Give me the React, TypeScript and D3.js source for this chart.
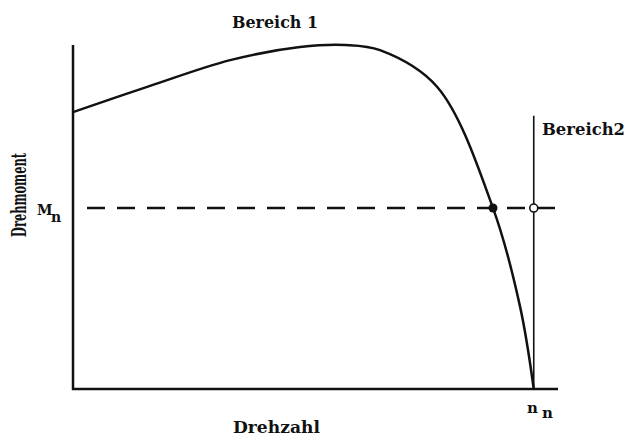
import * as d3 from 'd3';

// Drehzahl (% of axis) / Drehmoment (% of axis)
const speed = [0, 15.9, 32.4, 46.8, 56.1, 63.3, 75.1, 86.6, 92.2, 95];
const torque = [80.5, 88.1, 95.6, 99.4, 100, 98.5, 87.8, 52.6, 23.8, 0];

const nominalTorque = 52.6; // M_n
const nominalSpeed = 95; // n_n
const intersectSpeed = 86.6; // curve meets M_n
const region2Top = 79.4; // top of the Bereich2 line

const W = 630;
const H = 436;
const margin = { top: 45, right: 72, bottom: 47, left: 73 };

const FONT = '"DejaVu Serif", serif';

export default function App() {
  const x = d3.scaleLinear().domain([0, 100]).range([margin.left, W - margin.right]);
  const y = d3.scaleLinear().domain([0, 100]).range([H - margin.bottom, margin.top]);

  const pts = speed.map((s, i) => [s, torque[i]] as [number, number]);
  const line = d3
    .line<[number, number]>()
    .x((d) => x(d[0]))
    .y((d) => y(d[1]))
    .curve(d3.curveCatmullRom.alpha(0.5));

  const yMn = y(nominalTorque);

  return (
    <svg
      width={W}
      height={H}
      style={{ position: 'absolute', left: 0, top: 0, background: '#fff' }}
    >
      {/* Achsen */}
      <line x1={x(0)} x2={x(0)} y1={y(100)} y2={y(0) + 1} stroke="#111" strokeWidth={2.5} />
      <line x1={x(0) - 1} x2={x(100)} y1={y(0)} y2={y(0)} stroke="#111" strokeWidth={2.5} />

      {/* M_n Linie */}
      <line
        x1={x(0) + 14}
        x2={x(100)}
        y1={yMn}
        y2={yMn}
        stroke="#111"
        strokeWidth={2.5}
        strokeDasharray="18 12"
      />

      {/* Bereich2 Grenze */}
      <line
        x1={x(nominalSpeed)}
        x2={x(nominalSpeed)}
        y1={y(region2Top)}
        y2={y(0)}
        stroke="#111"
        strokeWidth={1.6}
      />

      {/* Kennlinie */}
      <path d={line(pts) ?? ''} fill="none" stroke="#111" strokeWidth={2.5} />

      <circle cx={x(intersectSpeed)} cy={yMn} r={4.5} fill="#111" />
      <circle cx={x(nominalSpeed)} cy={yMn} r={4} fill="#fff" stroke="#111" strokeWidth={1.6} />

      {/* Beschriftung */}
      <g fontFamily={FONT} fontWeight="bold" fill="#111">
        <text x={232} y={28} fontSize={16} textLength={86} lengthAdjust="spacingAndGlyphs">
          Bereich 1
        </text>
        <text x={542} y={135} fontSize={17} textLength={83} lengthAdjust="spacingAndGlyphs">
          Bereich2
        </text>
        <text x={233} y={433} fontSize={17} textLength={87} lengthAdjust="spacingAndGlyphs">
          Drehzahl
        </text>
        <text
          transform="translate(26,237) rotate(-90)"
          fontSize={20}
          textLength={84}
          lengthAdjust="spacingAndGlyphs"
        >
          Drehmoment
        </text>
        <text x={37} y={215} fontSize={14}>M</text>
        <text x={51} y={222} fontSize={14}>n</text>
        <text x={527} y={413} fontSize={15}>n</text>
        <text x={542} y={418} fontSize={15}>n</text>
      </g>
    </svg>
  );
}
